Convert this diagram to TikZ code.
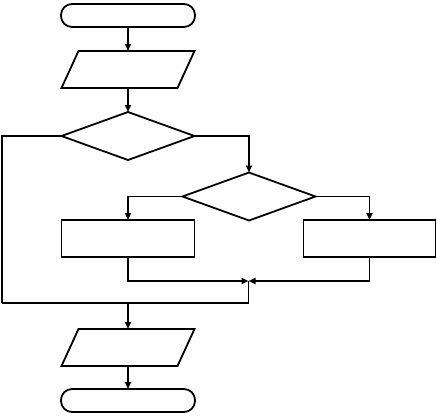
\documentclass[tikz,border=0pt]{standalone}
\usetikzlibrary{shapes.geometric,arrows.meta,calc}
\begin{document}
\begin{tikzpicture}[x=1pt,y=-1pt,line width=1.8pt,
  base/.style={draw,inner sep=0pt,outer sep=0pt},
  term/.style={base,rectangle,rounded corners=11pt,minimum width=134pt,minimum height=23pt},
  io/.style={inner sep=0pt,outer sep=0pt,rectangle,minimum width=133pt,minimum height=37pt},
  dec/.style={base,diamond,aspect=2.77,minimum width=133pt,minimum height=48pt},
  proc/.style={base,rectangle,minimum width=133pt,minimum height=37pt},
  arr/.style={-{Triangle[length=7pt,width=6pt]}}]
\useasboundingbox (0,0) rectangle (437,416);
\node[term] (t1) at (128,15.5) {};
\node[io] (p1) at (128,69.5) {};
\node[dec] (d1) at (128,136) {};
\node[dec] (d2) at (249,196.5) {};
\node[proc] (b1) at (128,238.5) {};
\node[proc,minimum width=132pt] (b2) at (369.5,238.5) {};
\node[io] (p2) at (128,347.5) {};
\node[term] (t2) at (128,400.5) {};
\foreach \p in {p1,p2}{
  \draw[line join=miter] ($(\p.north west)+(17,0)$) -- (\p.north east) -- ($(\p.south east)+(-17,0)$) -- (\p.south west) -- cycle;
}
\coordinate (m1) at (248.5,281);
\coordinate (m2) at (248.5,303);
\coordinate (lc) at (2,303);
\coordinate (c) at (128,303);
\draw[arr] (t1) -- (p1);
\draw[arr] (p1) -- (d1);
\draw[arr] (d1.east) -| (d2.north);
\draw[arr] (d2.west) -| (b1.north);
\draw[arr] (d2.east) -| (b2.north);
\draw[arr] (b1.south) |- (m1);
\draw[arr] (b2.south) |- (m1);
\draw (m1) -- (m2) -- (lc);
\draw (d1.west) -| (lc);
\draw[arr] (c) -- (p2.north);
\draw[arr] (p2) -- (t2);
\end{tikzpicture}
\end{document}
